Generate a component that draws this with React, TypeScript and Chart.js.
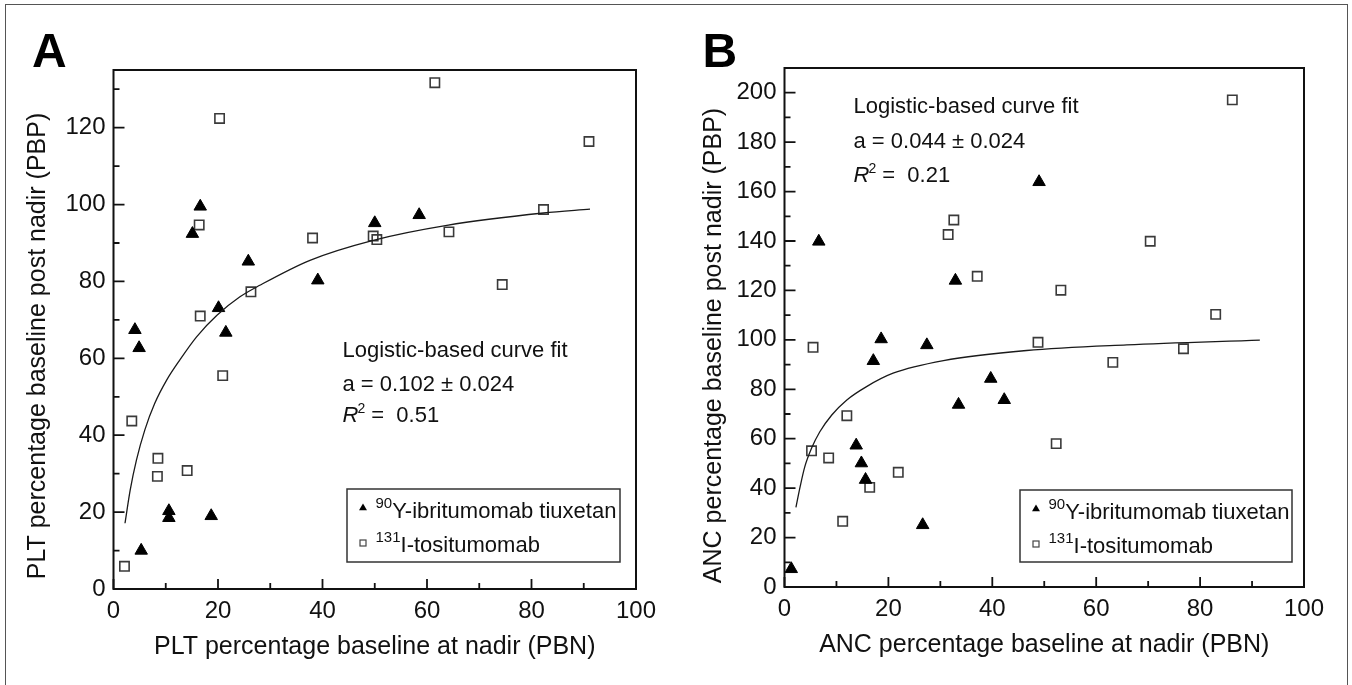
import { useEffect, useRef } from "react";
import { Chart, registerables } from "chart.js";

Chart.register(...registerables);

const FONT = '"Liberation Sans", Arial, Helvetica, sans-serif';
const W = 676;
const H = 685;

// Panel A: platelets
const pltTriX = [16.6, 15.1, 25.8, 39.1, 50.0, 58.5, 20.1, 21.5, 4.1, 4.9, 10.6, 10.6, 18.7, 5.3];
const pltTriY = [99.5, 92.4, 85.2, 80.3, 95.2, 97.3, 73.1, 66.7, 67.4, 62.7, 20.3, 18.5, 19.0, 10.0];
const pltSqX = [61.5, 20.3, 91.0, 16.4, 38.1, 49.7, 50.4, 64.2, 82.3, 74.4, 26.3, 16.6, 20.9, 3.5, 8.5, 8.4, 14.1, 2.1];
const pltSqY = [131.7, 122.4, 116.4, 94.7, 91.3, 91.8, 90.9, 92.9, 98.7, 79.2, 77.3, 71.0, 55.5, 43.7, 34.0, 29.3, 30.8, 5.9];
const pltFitX = [2.2, 3.2, 4.4, 6.0, 7.9, 10.2, 12.7, 15.9, 19.8, 24.2, 28.0, 37.6, 49.7, 63.8, 82.3, 91.2];
const pltFitY = [17.1, 25.8, 33.6, 41.4, 48.3, 54.4, 59.6, 65.6, 71.2, 76.0, 79.0, 85.5, 90.7, 94.6, 97.8, 98.8];

// Panel B: neutrophils
const ancTriX = [49.0, 6.6, 32.9, 18.6, 27.4, 17.1, 39.7, 42.3, 33.5, 13.8, 14.8, 15.6, 26.6, 1.3];
const ancTriY = [163.9, 139.8, 124.0, 100.3, 97.9, 91.5, 84.3, 75.7, 73.8, 57.3, 50.1, 43.4, 25.1, 7.3];
const ancSqX = [86.2, 32.6, 31.5, 70.4, 37.1, 53.2, 83.0, 48.8, 5.5, 76.8, 63.2, 12.0, 5.2, 8.5, 52.3, 21.9, 16.4, 11.2];
const ancSqY = [197.1, 148.5, 142.6, 139.9, 125.7, 120.1, 110.3, 99.0, 97.0, 96.4, 90.9, 69.3, 55.1, 52.2, 58.0, 46.4, 40.3, 26.6];
const ancFitX = [2.2, 3.0, 3.9, 5.2, 6.8, 9.1, 12.0, 15.8, 20.9, 30.6, 46.6, 65.9, 91.5];
const ancFitY = [32.2, 40.5, 48.6, 56.1, 62.8, 69.6, 75.7, 81.1, 86.5, 91.6, 95.7, 98.0, 99.9];

const legendLabels = ["Y-ibritumomab tiuxetan", "I-tositumomab"];
const legendIsotopes = ["90", "131"];
const fitTitle = "Logistic-based curve fit";

type Pt = { x: number; y: number };
const zip = (xs: number[], ys: number[]): Pt[] => xs.map((x, i) => ({ x, y: ys[i] }));

type Panel = {
  letter: string;
  letterX: number;
  xTitle: string;
  yTitle: string;
  yTitlePos: { x: number; y: number };
  yMax: number;
  area: { left: number; right: number; top: number; bottom: number };
  xTitlePad: number;
  tri: Pt[];
  sq: Pt[];
  fit: Pt[];
  note: { x: number; base: number[]; a: string; err: string; r2: string };
  legend: { x: number; y: number; w: number; h: number };
};

const panels: Panel[] = [
  {
    letter: "A",
    letterX: 32,
    xTitle: "PLT percentage baseline at nadir (PBN)",
    yTitle: "PLT percentage baseline post nadir (PBP)",
    yTitlePos: { x: 38, y: 346 },
    yMax: 135,
    area: { left: 113.5, right: 636, top: 70, bottom: 589 },
    xTitlePad: 23,
    tri: zip(pltTriX, pltTriY),
    sq: zip(pltSqX, pltSqY),
    fit: zip(pltFitX, pltFitY),
    note: { x: 342.5, base: [357, 391, 422], a: "0.102", err: "0.024", r2: "0.51" },
    legend: { x: 347, y: 489, w: 273, h: 73 },
  },
  {
    letter: "B",
    letterX: 26.5,
    xTitle: "ANC percentage baseline at nadir (PBN)",
    yTitle: "ANC percentage baseline post nadir (PBP)",
    yTitlePos: { x: 38.5, y: 345.5 },
    yMax: 210,
    area: { left: 108.5, right: 628, top: 68, bottom: 587 },
    xTitlePad: 25,
    tri: zip(ancTriX, ancTriY),
    sq: zip(ancSqX, ancSqY),
    fit: zip(ancFitX, ancFitY),
    note: { x: 177.5, base: [113, 148, 182], a: "0.044", err: "0.024", r2: "0.21" },
    legend: { x: 344, y: 490, w: 272, h: 72 },
  },
];

const drawTri = (ctx: CanvasRenderingContext2D, x: number, y: number, r: number) => {
  ctx.beginPath();
  ctx.moveTo(x, y - r);
  ctx.lineTo(x + r * 0.866, y + r / 2);
  ctx.lineTo(x - r * 0.866, y + r / 2);
  ctx.closePath();
  ctx.fill();
};

const decor = (p: Panel) => ({
  id: "decor",
  afterDraw(chart: any) {
    const { ctx, chartArea: ca, scales } = chart;
    ctx.save();

    // frame
    ctx.strokeStyle = "#111";
    ctx.lineWidth = 2;
    ctx.strokeRect(ca.left, ca.top, ca.right - ca.left, ca.bottom - ca.top);

    // inward tick marks, long on labelled values
    ctx.lineWidth = 1.8;
    ctx.beginPath();
    scales.x.ticks.forEach((t: any) => {
      const px = scales.x.getPixelForValue(t.value);
      const len = t.value % 20 === 0 ? 10 : 6;
      ctx.moveTo(px, ca.bottom);
      ctx.lineTo(px, ca.bottom - len);
    });
    scales.y.ticks.forEach((t: any) => {
      const py = scales.y.getPixelForValue(t.value);
      const len = t.value % 20 === 0 ? 11 : 6;
      ctx.moveTo(ca.left, py);
      ctx.lineTo(ca.left + len, py);
    });
    ctx.stroke();

    // y title, placed by hand (sits lower than the plot centre)
    ctx.save();
    ctx.translate(p.yTitlePos.x, p.yTitlePos.y);
    ctx.rotate(-Math.PI / 2);
    ctx.fillStyle = "#111";
    ctx.textAlign = "center";
    ctx.textBaseline = "middle";
    ctx.font = `25px ${FONT}`;
    ctx.fillText(p.yTitle, 0, 0);
    ctx.restore();

    // panel letter
    ctx.fillStyle = "#000";
    ctx.textAlign = "left";
    ctx.textBaseline = "alphabetic";
    ctx.font = `bold 48px ${FONT}`;
    ctx.fillText(p.letter, p.letterX, 67);

    // fit note
    const n = p.note;
    ctx.fillStyle = "#111";
    ctx.font = `22px ${FONT}`;
    ctx.fillText(fitTitle, n.x, n.base[0]);
    ctx.fillText(`a = ${n.a} \u00b1 ${n.err}`, n.x, n.base[1]);
    ctx.font = `italic 22px ${FONT}`;
    ctx.fillText("R", n.x, n.base[2]);
    let w = ctx.measureText("R").width;
    ctx.font = `14px ${FONT}`;
    ctx.fillText("2", n.x + w - 1, n.base[2] - 9);
    w += ctx.measureText("2").width;
    ctx.font = `22px ${FONT}`;
    ctx.fillText(" =  " + n.r2, n.x + w - 1, n.base[2]);

    // legend box
    const L = p.legend;
    ctx.strokeStyle = "#333";
    ctx.lineWidth = 1.5;
    ctx.strokeRect(L.x, L.y, L.w, L.h);
    const rows = [L.y + 29, L.y + 63];
    ctx.fillStyle = "#000";
    drawTri(ctx, L.x + 16, rows[0] - 10, 4.6);
    ctx.strokeStyle = "#444";
    ctx.lineWidth = 1.2;
    ctx.strokeRect(L.x + 13, rows[1] - 12, 6, 6);
    rows.forEach((base, i) => {
      ctx.fillStyle = "#111";
      ctx.font = `15px ${FONT}`;
      ctx.fillText(legendIsotopes[i], L.x + 28.5, base - 10);
      const sw = ctx.measureText(legendIsotopes[i]).width;
      ctx.font = `22px ${FONT}`;
      ctx.fillText(legendLabels[i], L.x + 28.5 + sw, base);
    });

    ctx.restore();
  },
});

const makeChart = (canvas: HTMLCanvasElement, p: Panel) =>
  new Chart(canvas, {
    type: "scatter",
    data: {
      datasets: [
        {
          data: p.fit,
          showLine: true,
          pointRadius: 0,
          borderColor: "#1a1a1a",
          borderWidth: 1.3,
          cubicInterpolationMode: "monotone",
          fill: false,
        },
        {
          data: p.tri,
          pointStyle: "triangle",
          pointRadius: 7.2,
          backgroundColor: "#000",
          borderColor: "#000",
          borderWidth: 1,
        },
        {
          data: p.sq,
          pointStyle: "rect",
          pointRadius: 6.6,
          backgroundColor: "rgba(0,0,0,0)",
          borderColor: "#3a3a3a",
          borderWidth: 1.6,
        },
      ],
    },
    options: {
      animation: false,
      responsive: true,
      maintainAspectRatio: false,
      events: [],
      layout: { padding: { left: 0, top: p.area.top, right: W - p.area.right, bottom: 0 } },
      plugins: { legend: { display: false }, tooltip: { enabled: false } },
      scales: {
        x: {
          type: "linear",
          min: 0,
          max: 100,
          grid: { display: false, drawTicks: false },
          border: { display: false },
          ticks: {
            stepSize: 10,
            autoSkip: false,
            maxRotation: 0,
            padding: 8,
            color: "#111",
            font: { family: FONT, size: 24 },
            callback: (v: any) => (Number(v) % 20 === 0 ? String(v) : ""),
          },
          title: {
            display: true,
            text: p.xTitle,
            color: "#111",
            font: { family: FONT, size: 25 },
            padding: { top: 0, bottom: p.xTitlePad },
          },
          afterFit: (s: any) => {
            s.height = H - p.area.bottom;
          },
        },
        y: {
          type: "linear",
          min: 0,
          max: p.yMax,
          grid: { display: false, drawTicks: false },
          border: { display: false },
          ticks: {
            stepSize: 10,
            includeBounds: false,
            autoSkip: false,
            padding: 8,
            color: "#111",
            font: { family: FONT, size: 24 },
            callback: (v: any) => (Number(v) % 20 === 0 ? String(v) : ""),
          },
          title: { display: false },
          afterFit: (s: any) => {
            s.width = p.area.left;
          },
        },
      },
    },
    plugins: [decor(p)],
  } as any);

const PanelChart = ({ panel, left }: { panel: Panel; left: number }) => {
  const canvasRef = useRef<HTMLCanvasElement | null>(null);

  useEffect(() => {
    if (!canvasRef.current) return;
    const chart = makeChart(canvasRef.current, panel);
    return () => chart.destroy();
  }, [panel]);

  return (
    <div style={{ position: "absolute", left, top: 0, width: W, height: H }}>
      <canvas ref={canvasRef}></canvas>
    </div>
  );
};

export default function App() {
  return (
    <div
      style={{
        position: "fixed",
        left: 0,
        top: 0,
        width: 1352,
        height: 685,
        background: "#fff",
        overflow: "hidden",
      }}
    >
      {/* outer figure frame, open at the bottom */}
      <div
        style={{
          position: "absolute",
          left: 5,
          top: 4,
          width: 1341,
          height: 700,
          border: "1.5px solid #555",
          borderBottom: "none",
        }}
      />
      <PanelChart panel={panels[0]} left={0} />
      <PanelChart panel={panels[1]} left={W} />
    </div>
  );
}
